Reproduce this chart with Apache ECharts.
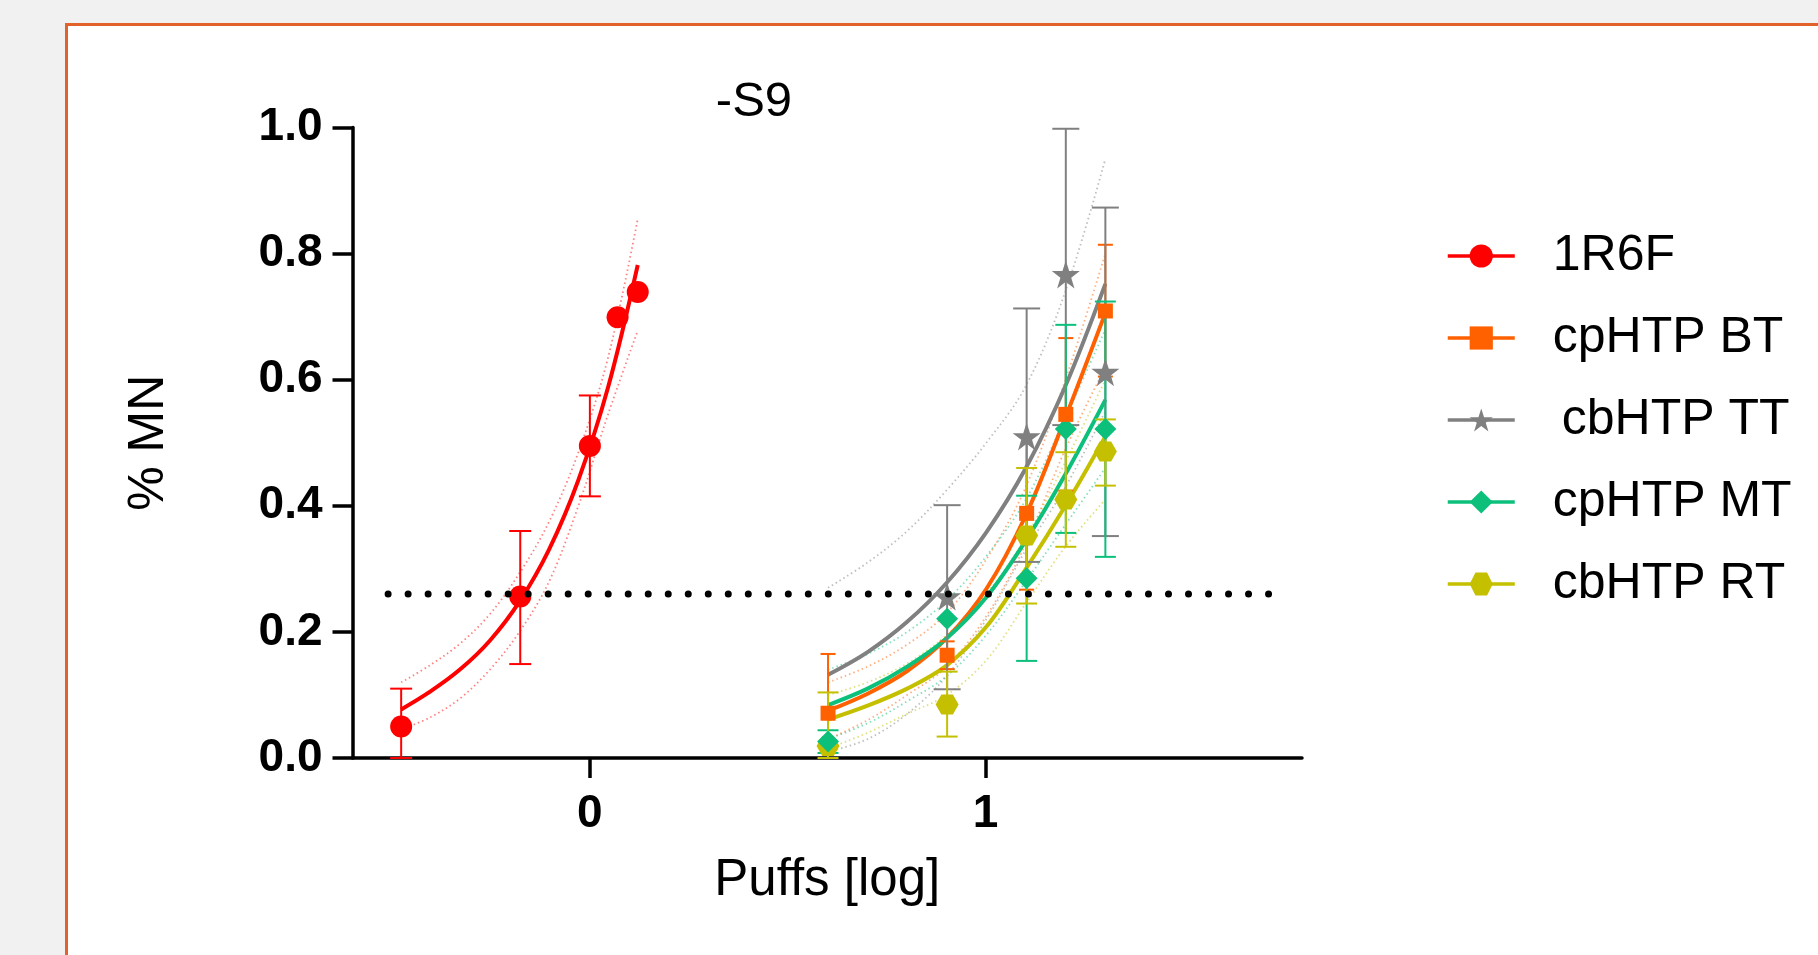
<!DOCTYPE html>
<html>
<head>
<meta charset="utf-8">
<title>-S9 % MN</title>
<script src="https://cdn.jsdelivr.net/npm/echarts@6/dist/echarts.min.js"></script>
<style>
  html, body { margin: 0; padding: 0; width: 1818px; height: 955px; overflow: hidden; background: #f1f1f1; }
  .frame { position: absolute; left: 65px; top: 23px; width: 1800px; height: 1000px; background: #fff; border: 3px solid #e2622c; }
  #chart { position: absolute; left: 0; top: 0; width: 1818px; height: 955px; }
</style>
</head>
<body>
<div class="frame"></div>
<div id="chart"></div>
<script>
(function () {
  var FONT = '"Liberation Sans", Arial, sans-serif';

  var names = ['1R6F', 'cpHTP BT', 'cbHTP TT', 'cpHTP MT', 'cbHTP RT'];
  var colors = ['#ff0000', '#ff6000', '#808080', '#0cc07c', '#c4c000'];

  // measured points: log(puffs), %MN, error bar low / high
  var r6fX = [-0.477, -0.176, 0, 0.07, 0.121];
  var r6fY = [0.05, 0.256, 0.495, 0.699, 0.739];
  var r6fLo = [0, 0.149, 0.415, null, null];
  var r6fHi = [0.11, 0.36, 0.575, null, null];

  var doseX = [0.602, 0.903, 1.104, 1.203, 1.303];
  var btY = [0.071, 0.163, 0.388, 0.545, 0.709];
  var btLo = [0, 0.141, 0.267, 0.424, 0.605];
  var btHi = [0.165, 0.185, 0.51, 0.666, 0.814];

  var ttX = [0.903, 1.104, 1.203, 1.303];
  var ttY = [0.256, 0.51, 0.767, 0.612];
  var ttLo = [0.109, 0.311, 0.528, 0.352];
  var ttHi = [0.401, 0.713, 0.998, 0.873];

  var mtY = [0.026, 0.221, 0.285, 0.522, 0.522];
  var mtLo = [0.008, null, 0.154, 0.357, 0.319];
  var mtHi = [0.044, null, 0.416, 0.687, 0.724];

  var rtY = [0.019, 0.085, 0.353, 0.41, 0.486];
  var rtLo = [0, 0.034, 0.245, 0.335, 0.432];
  var rtHi = [0.104, 0.137, 0.46, 0.485, 0.537];

  // fitted curves and their confidence bands
  var r6fFitX = [-0.477, -0.402, -0.327, -0.253, -0.178, -0.103, -0.029, 0.046, 0.121];
  var r6fFit = [0.077, 0.106, 0.141, 0.186, 0.248, 0.331, 0.441, 0.588, 0.782];
  var r6fUp = [0.12, 0.148, 0.182, 0.228, 0.293, 0.375, 0.485, 0.635, 0.855];
  var r6fDn = [0.045, 0.065, 0.095, 0.14, 0.2, 0.28, 0.4, 0.545, 0.678];

  var fitX = [0.602, 0.702, 0.802, 0.902, 1.002, 1.102, 1.202, 1.303];
  var btFit = [0.075, 0.102, 0.138, 0.19, 0.268, 0.385, 0.54, 0.706];
  var btUp = [0.12, 0.145, 0.18, 0.23, 0.315, 0.43, 0.6, 0.8];
  var btDn = [0.03, 0.06, 0.1, 0.145, 0.225, 0.34, 0.49, 0.62];
  var ttFit = [0.132, 0.168, 0.216, 0.278, 0.358, 0.46, 0.59, 0.752];
  var ttUp = [0.27, 0.31, 0.36, 0.425, 0.5, 0.59, 0.74, 0.95];
  var ttDn = [0.01, 0.03, 0.07, 0.13, 0.22, 0.33, 0.43, 0.55];
  var mtFit = [0.084, 0.11, 0.145, 0.19, 0.255, 0.345, 0.45, 0.568];
  var mtUp = [0.14, 0.165, 0.2, 0.25, 0.32, 0.41, 0.54, 0.68];
  var mtDn = [0.03, 0.055, 0.09, 0.13, 0.195, 0.28, 0.37, 0.46];
  var rtFit = [0.061, 0.083, 0.11, 0.147, 0.208, 0.3, 0.4, 0.51];
  var rtUp = [0.1, 0.12, 0.15, 0.195, 0.26, 0.35, 0.47, 0.6];
  var rtDn = [0.015, 0.04, 0.07, 0.1, 0.155, 0.245, 0.335, 0.41];

  var refX = [-0.51, 1.75];
  var refY = 0.26;

  var STAR = 'path://M50,0 L61.8,35.1 L98.9,35.1 L68.9,56.8 L80.3,91.9 L50,70.2 L19.7,91.9 L31.1,56.8 L1.1,35.1 L38.2,35.1 Z';
  var HEX = 'path://M0,50 L25,6.7 L75,6.7 L100,50 L75,93.3 L25,93.3 Z';
  var symbols = ['circle', 'rect', STAR, 'diamond', HEX];
  var sizes = [22, 15, 28, 22, [23, 20]];
  var capW = [22, 15, 27, 21, 21];

  function zip(xs, ys) {
    return xs.map(function (x, i) { return [x, ys[i]]; });
  }

  function fitLine(i, xs, ys) {
    return {
      type: 'line', name: names[i], data: zip(xs, ys), z: 2,
      smooth: 0.35, symbol: symbols[i], showSymbol: false, silent: true,
      lineStyle: { color: colors[i], width: 4 },
      itemStyle: { color: colors[i] }
    };
  }

  function band(i, xs, ys) {
    return {
      type: 'line', name: names[i], data: zip(xs, ys), z: 1,
      smooth: 0.35, symbol: 'none', silent: true,
      lineStyle: { color: colors[i], width: 1.8, type: [1.5, 3], opacity: 0.5 }
    };
  }

  function points(i, xs, ys) {
    return {
      type: 'scatter', name: names[i], data: zip(xs, ys), z: 4,
      symbol: symbols[i], symbolSize: sizes[i], silent: true,
      itemStyle: { color: colors[i], opacity: 1 }
    };
  }

  function errorBars(i, xs, lo, hi) {
    var data = [];
    xs.forEach(function (x, k) { if (lo[k] != null) data.push([x, lo[k], hi[k]]); });
    return {
      type: 'custom', name: names[i], z: 3, silent: true,
      encode: { x: 0, y: [1, 2] },
      data: data,
      renderItem: function (params, api) {
        var top = api.coord([api.value(0), api.value(2)]);
        var bot = api.coord([api.value(0), api.value(1)]);
        var s = { stroke: colors[i], lineWidth: 2 };
        var w = capW[i] / 2;
        return {
          type: 'group',
          children: [
            { type: 'line', shape: { x1: top[0], y1: top[1], x2: bot[0], y2: bot[1] }, style: s },
            { type: 'line', shape: { x1: top[0] - w, y1: top[1], x2: top[0] + w, y2: top[1] }, style: s },
            { type: 'line', shape: { x1: bot[0] - w, y1: bot[1], x2: bot[0] + w, y2: bot[1] }, style: s }
          ]
        };
      }
    };
  }

  var chart = echarts.init(document.getElementById('chart'));

  var option = {
    animation: false,
    backgroundColor: 'transparent',
    title: {
      text: '-S9',
      left: 754, top: 78, padding: 0, textAlign: 'center',
      textStyle: { fontFamily: FONT, fontSize: 49, fontWeight: 'normal', color: '#000' }
    },
    legend: {
      orient: 'vertical', left: 1446, top: 231, padding: 0,
      itemWidth: 67, itemHeight: 29, itemGap: 32, selectedMode: false,
      lineStyle: { width: 3.5 },
      textStyle: { fontFamily: FONT, fontSize: 50, color: '#000', padding: [0, 0, 0, 33] },
      data: [
        names[0], names[1],
        { name: names[2], textStyle: { padding: [0, 0, 0, 42] } },
        names[3], names[4]
      ]
    },
    grid: { left: 352.5, right: 516, top: 127.5, bottom: 197 },
    xAxis: {
      type: 'value', min: -0.6, max: 1.8,
      name: 'Puffs [log]', nameLocation: 'middle', nameGap: 97,
      nameTextStyle: { fontFamily: FONT, fontSize: 51, color: '#000' },
      axisLine: { lineStyle: { color: '#000', width: 3.5 } },
      axisTick: { length: 20, lineStyle: { color: '#000', width: 3.5 }, customValues: [0, 1] },
      axisLabel: { customValues: [0, 1], fontFamily: FONT, fontSize: 46, fontWeight: 'bold', color: '#000', margin: 33 },
      splitLine: { show: false }
    },
    yAxis: {
      type: 'value', min: 0, max: 1, interval: 0.2,
      name: '% MN', nameLocation: 'middle', nameRotate: 90, nameGap: 178,
      nameTextStyle: { fontFamily: FONT, fontSize: 50, color: '#000' },
      axisLine: { onZero: false, lineStyle: { color: '#000', width: 3.5 } },
      axisTick: { length: 20, lineStyle: { color: '#000', width: 3.5 } },
      axisLabel: {
        fontFamily: FONT, fontSize: 46, fontWeight: 'bold', color: '#000', margin: 30,
        formatter: function (v) { return v.toFixed(1); }
      },
      splitLine: { show: false }
    },
    series: [
      fitLine(0, r6fFitX, r6fFit),
      fitLine(1, fitX, btFit),
      fitLine(2, fitX, ttFit),
      fitLine(3, fitX, mtFit),
      fitLine(4, fitX, rtFit),

      band(0, r6fFitX, r6fUp), band(0, r6fFitX, r6fDn),
      band(1, fitX, btUp), band(1, fitX, btDn),
      band(2, fitX, ttUp), band(2, fitX, ttDn),
      band(3, fitX, mtUp), band(3, fitX, mtDn),
      band(4, fitX, rtUp), band(4, fitX, rtDn),

      errorBars(0, r6fX, r6fLo, r6fHi),
      errorBars(1, doseX, btLo, btHi),
      errorBars(2, ttX, ttLo, ttHi),
      errorBars(3, doseX, mtLo, mtHi),
      errorBars(4, doseX, rtLo, rtHi),

      points(0, r6fX, r6fY),
      points(4, doseX, rtY),
      points(3, doseX, mtY),
      points(1, doseX, btY),
      points(2, ttX, ttY),

      {
        type: 'line', name: 'threshold', silent: true, z: 5, symbol: 'none',
        data: refX.map(function (x) { return [x, refY]; }),
        lineStyle: { color: '#000', width: 7, type: [0.01, 20], cap: 'round' }
      }
    ]
  };

  chart.setOption(option);
})();
</script>
</body>
</html>
